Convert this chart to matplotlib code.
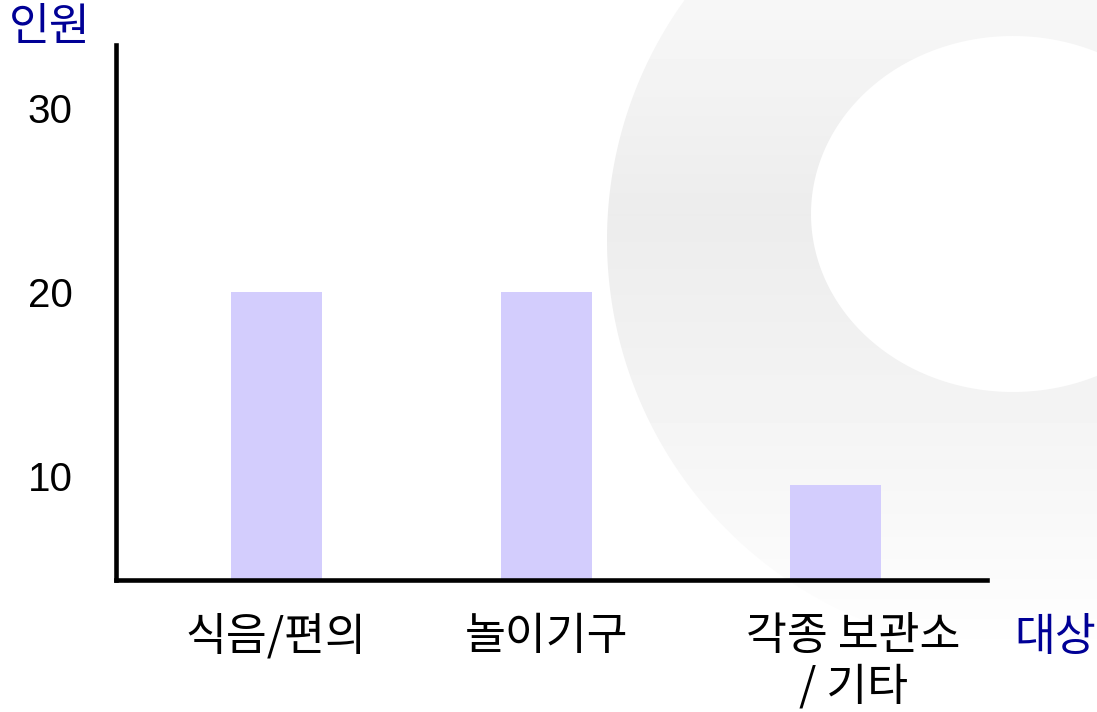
import matplotlib
matplotlib.use("Agg")
import matplotlib.pyplot as plt
import numpy as np
from matplotlib.path import Path
from matplotlib.patches import PathPatch
from matplotlib.transforms import ScaledTranslation

plt.rcParams['font.family'] = ['Noto Sans CJK KR', 'DejaVu Sans']

# data
categories = ["식음/편의", "놀이기구", "각종 보관소\n/ 기타"]
counts = [20, 20, 9.5]
yticks = [10, 20, 30]
ylabel = "인원"
xlabel = "대상"

W, H = 1097, 712
fig = plt.figure(figsize=(W / 100, H / 100), dpi=100)

# background ring with a soft vertical grey gradient
bg = fig.add_axes([0, 0, 1, 1], zorder=0)
bg.set_xlim(0, W)
bg.set_ylim(H, 0)
bg.axis("off")
ys = np.linspace(0, H, 200)
grey = np.interp(ys, [0, 213, 400, 560, 660], [247, 236, 243, 250, 255]) / 255.0
grad = np.repeat(grey[:, None], 2, axis=1)
im = bg.imshow(grad, cmap="gray", vmin=0, vmax=1, extent=(0, W, H, 0),
               aspect="auto", interpolation="bilinear")
t = np.linspace(0, 2 * np.pi, 400)
outer = np.column_stack([1017 + 410 * np.cos(t), 240 + 410 * np.sin(t)])
inner = np.column_stack([1013 + 202 * np.cos(-t), 214 + 178 * np.sin(-t)])
verts = np.vstack([outer, inner])
codes = np.full(len(verts), Path.LINETO)
codes[0] = Path.MOVETO
codes[len(outer)] = Path.MOVETO
ring = PathPatch(Path(verts, codes), transform=bg.transData, facecolor="none", edgecolor="none")
bg.add_patch(ring)
im.set_clip_path(ring)

# main chart
ax = fig.add_axes([116 / W, 1 - 580 / H, 871 / W, 535 / H], zorder=1)
ax.patch.set_alpha(0)
x = np.array([0, 1, 2.07])
ax.bar(x, counts, width=0.337, color="#d3cdfd", zorder=2)
ax.set_xlim(-0.594, 2.632)
ax.set_ylim(4.35, 33.43)

for s in ["top", "right"]:
    ax.spines[s].set_visible(False)
for s in ["left", "bottom"]:
    ax.spines[s].set_linewidth(3.3)
    ax.spines[s].set_capstyle("projecting")
    ax.spines[s].set_zorder(3)

ax.set_yticks(yticks)
ax.set_yticklabels([str(v) for v in yticks], family="Liberation Sans", fontsize=29)
ax.tick_params(axis="y", length=0, pad=31)

ax.set_xticks(x)
ax.set_xticklabels(categories, fontsize=32, linespacing=1.12)
ax.tick_params(axis="x", length=0, pad=24)
lab = ax.get_xticklabels()[2]
lab.set_transform(lab.get_transform() + ScaledTranslation(18 / 100, 0, fig.dpi_scale_trans))

ax.set_ylabel(ylabel, rotation=0, fontsize=32, color="#000096", ha="center", va="center")
ax.yaxis.set_label_coords(-0.0758, 1.0336)
ax.set_xlabel(xlabel, fontsize=32, color="#000096", ha="center", va="center")
ax.xaxis.set_label_coords(1.078, -0.1065)

fig.savefig("out.png", dpi=100)
